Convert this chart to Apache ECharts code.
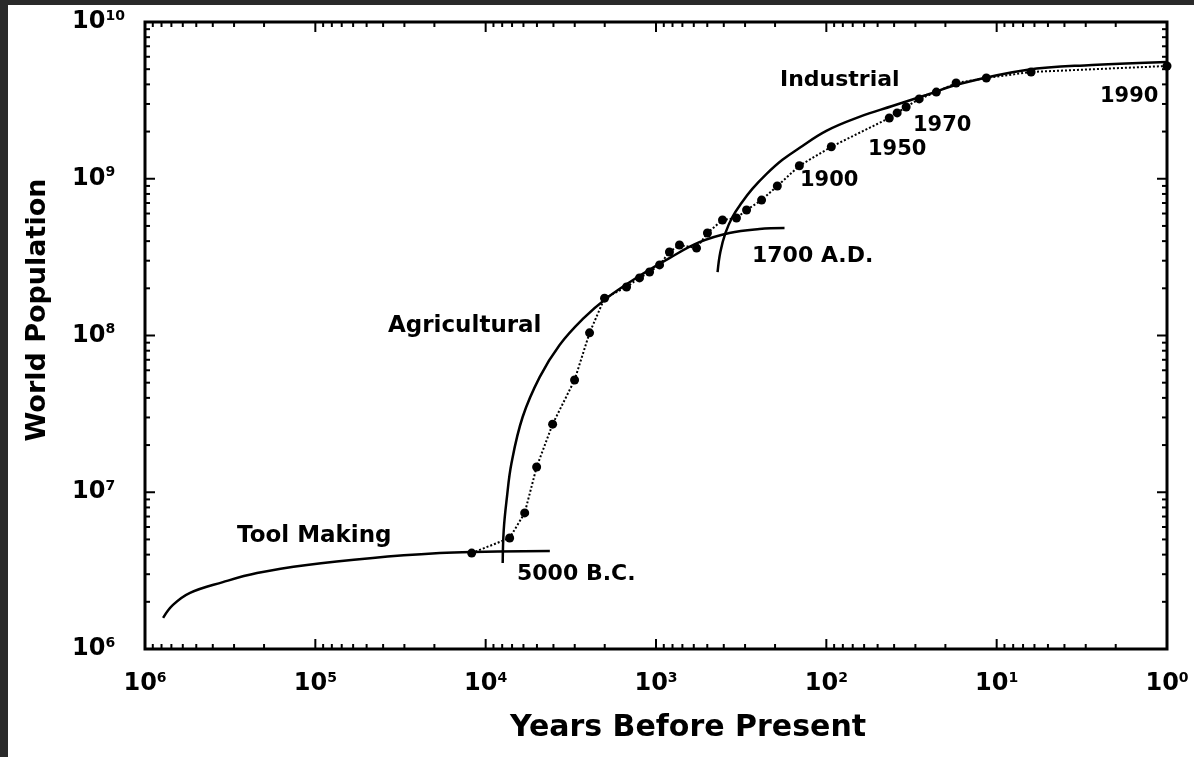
<!DOCTYPE html>
<html>
<head>
<meta charset="utf-8">
<title>World Population</title>
<script src="https://cdn.jsdelivr.net/npm/echarts@6/dist/echarts.min.js"></script>
<style>
  html, body {
    margin: 0;
    padding: 0;
    background: #2a2a2a;
  }
  #chart {
    position: absolute;
    left: 8px;
    top: 5px;
    width: 1186px;
    height: 752px;
    background: #ffffff;
  }
</style>
</head>
<body>
<div id="chart"></div>
<script>
// Tool Making phase (solid curve)
const toolYears = [7.83e5, 6.85e5, 5.44e5, 3.49e5, 2.2e5, 1.12e5, 4.6e4, 1.86e4, 1.19e4, 4.2e3]
const toolPop = [1.58e6, 1.91e6, 2.28e6, 2.67e6, 3.05e6, 3.44e6, 3.81e6, 4.09e6, 4.16e6, 4.22e6]

// Agricultural phase (solid curve)
const agriYears = [7943, 7834, 7534, 7047, 6067, 4819, 3681, 2698, 1950, 1250, 834, 556, 371, 247, 176]
const agriPop = [3.54e6, 5.74e6, 8.93e6, 1.54e7, 3.02e7, 5.43e7, 8.7e7, 1.27e8, 1.73e8, 2.4e8, 3.12e8, 3.94e8, 4.51e8, 4.78e8, 4.85e8]

// Industrial phase (solid curve)
const induYears = [435, 419, 391, 356, 315, 272, 225, 181, 144, 100, 64, 41, 25.9, 16.6, 6.7, 2.75, 1]
const induPop = [2.54e8, 3.41e8, 4.51e8, 5.7e8, 7.0e8, 8.61e8, 1.07e9, 1.32e9, 1.57e9, 2.02e9, 2.48e9, 2.91e9, 3.42e9, 4.02e9, 4.94e9, 5.32e9, 5.56e9]

// observed estimates (dotted line with markers)
const obsYears = [12080, 7230, 5900, 5020, 4045, 3006, 2455, 2005, 1489, 1250, 1091, 953, 834, 728, 578, 499, 407, 337, 294, 240, 194, 144, 93.5, 42.7, 38.4, 34, 28.5, 22.6, 17.3, 11.5, 6.28, 1]
const obsPop = [4.09e6, 5.11e6, 7.38e6, 1.45e7, 2.72e7, 5.2e7, 1.04e8, 1.73e8, 2.04e8, 2.33e8, 2.54e8, 2.82e8, 3.41e8, 3.78e8, 3.61e8, 4.51e8, 5.46e8, 5.62e8, 6.32e8, 7.31e8, 8.99e8, 1.21e9, 1.6e9, 2.44e9, 2.63e9, 2.87e9, 3.23e9, 3.57e9, 4.08e9, 4.39e9, 4.8e9, 5.24e9]

// decades used for the tick marks on the frame
const xDecades = [1, 10, 100, 1e3, 1e4, 1e5]
const yDecades = [1e6, 1e7, 1e8, 1e9]

const FONT = '"DejaVu Sans", "Liberation Sans", sans-serif'

const zip = (xs, ys) => xs.map((x, i) => [x, ys[i]])

const powLabel = (value) => {
  const e = Math.round(Math.log10(value))
  return '{b|10}{s|' + e + '}'
}

const labelRich = {
  b: { fontFamily: FONT, fontWeight: 'bold', fontSize: 24, color: '#000', lineHeight: 26 },
  s: { fontFamily: FONT, fontWeight: 'bold', fontSize: 14, color: '#000', verticalAlign: 'top', lineHeight: 26, padding: [0, 0, 8, 0] }
}

const tickLine = (x1, y1, x2, y2) => ({
  type: 'line',
  shape: { x1: x1, y1: y1, x2: x2, y2: y2 },
  style: { stroke: '#000', lineWidth: 2 }
})

const curve = (data) => ({
  type: 'line',
  data: data,
  smooth: 0.4,
  showSymbol: false,
  lineStyle: { color: '#000', width: 2.5 },
  z: 3
})

const text = (str, x, y, size) => ({
  type: 'text',
  x: x,
  y: y,
  style: {
    text: str,
    font: 'bold ' + size + 'px ' + FONT,
    fill: '#000',
    verticalAlign: 'middle'
  }
})

const chart = echarts.init(document.getElementById('chart'))

const option = {
  animation: false,
  backgroundColor: '#ffffff',
  grid: {
    left: 137,
    right: 27,
    top: 17,
    bottom: 108,
    show: true,
    borderColor: '#000',
    borderWidth: 3
  },
  xAxis: {
    type: 'log',
    logBase: 10,
    inverse: true,
    min: 1,
    max: 1e6,
    interval: 1,
    axisLine: { show: false },
    axisTick: { show: false },
    splitLine: { show: false },
    axisLabel: {
      margin: 22,
      formatter: powLabel,
      rich: labelRich,
      showMinLabel: true,
      showMaxLabel: true
    }
  },
  yAxis: {
    type: 'log',
    logBase: 10,
    min: 1e6,
    max: 1e10,
    interval: 1,
    axisLine: { show: false },
    axisTick: { show: false },
    splitLine: { show: false },
    axisLabel: {
      margin: 73,
      align: 'left',
      formatter: powLabel,
      rich: labelRich,
      showMinLabel: true,
      showMaxLabel: true
    }
  },
  series: [
    curve(zip(toolYears, toolPop)),
    curve(zip(agriYears, agriPop)),
    curve(zip(induYears, induPop)),
    {
      type: 'line',
      data: zip(obsYears, obsPop),
      symbol: 'circle',
      symbolSize: 9,
      clip: false,
      itemStyle: { color: '#000' },
      lineStyle: { color: '#000', width: 2, type: 'dotted' },
      z: 4
    },
    {
      // ticks on bottom and top edges
      type: 'custom',
      data: xDecades.map(d => [d, 1e6]),
      silent: true,
      clip: false,
      renderItem: (params, api) => {
        const d = api.value(0)
        const children = []
        for (let k = 1; k <= 9; k++) {
          const len = k === 1 ? 10 : 5
          const b = api.coord([d * k, 1e6])
          const t = api.coord([d * k, 1e10])
          children.push(tickLine(b[0], b[1], b[0], b[1] - len))
          children.push(tickLine(t[0], t[1], t[0], t[1] + len))
        }
        return { type: 'group', children: children }
      },
      z: 5
    },
    {
      // ticks on left and right edges
      type: 'custom',
      data: yDecades.map(d => [1, d]),
      silent: true,
      clip: false,
      renderItem: (params, api) => {
        const d = api.value(1)
        const children = []
        for (let k = 1; k <= 9; k++) {
          const len = k === 1 ? 10 : 5
          const l = api.coord([1e6, d * k])
          const r = api.coord([1, d * k])
          children.push(tickLine(l[0], l[1], l[0] + len, l[1]))
          children.push(tickLine(r[0], r[1], r[0] - len, r[1]))
        }
        return { type: 'group', children: children }
      },
      z: 5
    }
  ],
  graphic: [
    text('Industrial', 772, 75, 22),
    text('Agricultural', 380, 321, 23),
    text('Tool Making', 229, 531, 23),
    text('5000 B.C.', 509, 569, 22),
    text('1700 A.D.', 744, 251, 22),
    text('1900', 792, 176, 21),
    text('1950', 860, 145, 21),
    text('1970', 905, 121, 21),
    text('1990', 1092, 92, 21),
    {
      type: 'text',
      x: 680,
      y: 723,
      style: {
        text: 'Years Before Present',
        font: 'bold 30px ' + FONT,
        fill: '#000',
        align: 'center',
        verticalAlign: 'middle'
      }
    },
    {
      type: 'text',
      x: 30,
      y: 305,
      rotation: Math.PI / 2,
      style: {
        text: 'World Population',
        font: 'bold 27px ' + FONT,
        fill: '#000',
        align: 'center',
        verticalAlign: 'middle'
      }
    }
  ]
}

chart.setOption(option)
</script>
</body>
</html>
